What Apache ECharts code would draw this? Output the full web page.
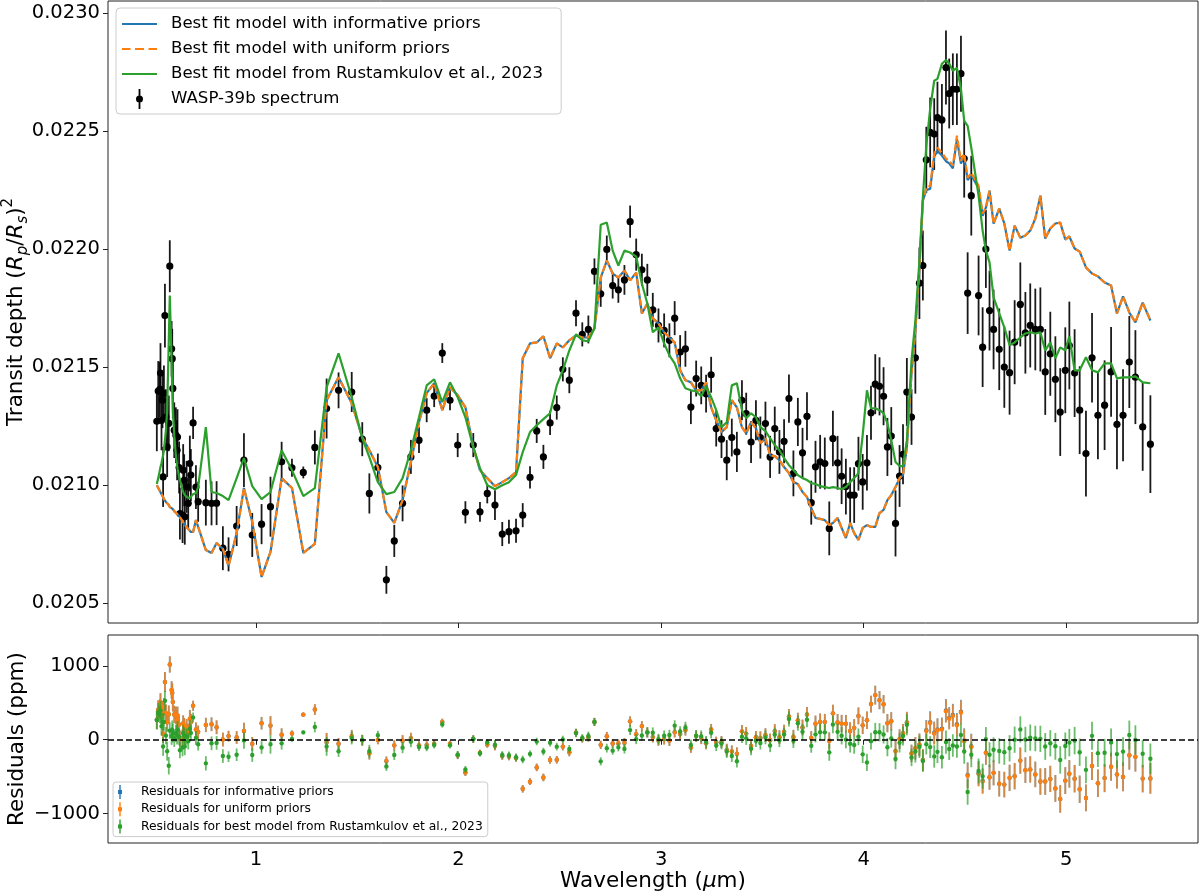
<!DOCTYPE html>
<html>
<head>
<meta charset="utf-8">
<script src="https://cdn.jsdelivr.net/npm/echarts@6.0.0/dist/echarts.min.js"></script>
<style>
  html, body { margin: 0; padding: 0; background: #fff; }
  #chart { width: 1200px; height: 894px; }
</style>
</head>
<body>
<div id="chart"></div>
<script>
// wavelength of each spectral bin (micron)
const wavelength = [
  0.511, 0.518, 0.526, 0.529, 0.534, 0.539, 0.542, 0.546, 0.551, 0.556, 0.562, 0.570, 0.575, 0.584, 0.587, 0.590, 0.597,
  0.605, 0.611, 0.613, 0.621, 0.625, 0.638, 0.641, 0.646, 0.649, 0.658, 0.666, 0.674, 0.679, 0.690, 0.704, 0.715,
  0.753, 0.781, 0.806, 0.837, 0.865, 0.905, 0.941, 0.982, 1.028, 1.072, 1.127, 1.178, 1.234, 1.291, 1.349, 1.408,
  1.473, 1.525, 1.560, 1.602, 1.644, 1.683,
  1.724, 1.765, 1.805, 1.843, 1.880, 1.920, 1.958, 1.996, 2.034, 2.073, 2.106, 2.142, 2.180, 2.216, 2.249, 2.284,
  2.317, 2.353, 2.386, 2.419, 2.452, 2.485, 2.515, 2.547, 2.580, 2.611, 2.641, 2.671,
  2.702, 2.732, 2.761, 2.789, 2.819, 2.847, 2.877, 2.905, 2.932, 2.959, 2.987, 3.015, 3.041, 3.067, 3.094, 3.120,
  3.147, 3.173, 3.198, 3.222, 3.247, 3.272, 3.298, 3.324, 3.349, 3.374, 3.399,
  3.420, 3.444, 3.468, 3.490, 3.515, 3.538, 3.561, 3.584, 3.607, 3.631, 3.653, 3.675, 3.698, 3.720, 3.741, 3.762,
  3.785, 3.808, 3.830, 3.848, 3.871, 3.891, 3.912, 3.933, 3.953, 3.974, 3.995, 4.016, 4.036, 4.057,
  4.078, 4.098, 4.117, 4.136, 4.157, 4.177, 4.194, 4.213, 4.236, 4.255, 4.275, 4.292, 4.309, 4.328, 4.348, 4.364,
  4.386, 4.406, 4.422, 4.440, 4.460, 4.480, 4.496,
  4.513, 4.531, 4.567, 4.587, 4.603, 4.621, 4.641, 4.669, 4.694, 4.720, 4.745, 4.773, 4.798, 4.822, 4.847, 4.872,
  4.896, 4.921, 4.946, 4.970, 4.995, 5.015, 5.041, 5.066, 5.097, 5.127, 5.156, 5.189, 5.221, 5.250, 5.280, 5.311,
  5.341, 5.377, 5.415
]

// transit depth, ppm
const depth = [
  21270, 21398, 21405, 21474, 21274, 21359, 21034, 21388, 21718, 21288, 21161, 21261, 21927, 21577, 21535, 21409, 21232,
  21211, 21147, 21203, 21074, 20879, 20872, 21063, 21020, 20865, 20992, 20922, 21091, 21042, 21263, 20991, 20929,
  20925, 20922, 20923, 20732, 20706, 20826, 21105, 20788, 20834, 20908, 21098, 21073, 21053, 21159, 21324, 21401,
  21394, 21194, 20964, 21074, 20598, 20763,
  20922, 21119, 21190, 21317, 21377, 21559, 21359, 21169, 20884, 21169, 20886, 20964, 20915, 20792, 20802, 20806,
  20872, 21032, 21229, 21119, 21263, 21328, 21490, 21444, 21728, 21638, 21659, 21905,
  21810, 21998, 21845, 21827, 21869, 22116, 21976, 21912, 21869, 21742, 21676, 21655, 21613, 21707, 21563, 21577,
  21330, 21451, 21422, 21387, 21467, 21239, 21194, 21105, 21201, 21140, 21359,
  21302, 21182, 21274, 21201, 21260, 21119, 21239, 21140, 21185, 21366, 21049, 21267, 21136, 21291, 20925, 21077,
  21098, 21091, 20816, 21197, 21094, 21037, 20993, 20957, 20957, 21090, 21013, 21094, 21306, 21427,
  21418, 21376, 21161, 21207, 20837, 21038, 21130, 21394, 21288, 21539, 21855, 21930, 22378, 22494, 22487, 22557,
  22547, 22769, 22659, 22677, 22677, 22743, 22383,
  21813, 22226, 21803, 21584, 22000, 21739, 21659, 21575, 21500, 21476, 21605, 21765, 21645, 21676, 21659, 21659,
  21479, 21556, 21448, 21309, 21486, 21591, 21474, 21317, 21133, 21539, 21295, 21338, 21479, 21257, 21295, 21521,
  21457, 21246, 21173
]

// 1-sigma uncertainty, ppm
const depthErr = [
  127, 127, 118, 127, 127, 118, 127, 118, 135, 118, 127, 118, 110, 118, 127, 127, 118,
  118, 127, 118, 110, 110, 118, 110, 110, 118, 110, 110, 118, 110, 68, 93, 85,
  97, 93, 93, 93, 72, 85, 114, 93, 85, 127, 85, 38, 25, 72, 127, 76,
  85, 72, 85, 59, 59, 68,
  76, 72, 55, 51, 47, 42, 42, 51, 47, 51, 42, 42, 63, 51, 51, 51,
  51, 47, 51, 51, 51, 51, 51, 55, 55, 51, 59, 55,
  55, 59, 55, 55, 63, 68, 68, 68, 68, 72, 72, 72, 72, 72, 72, 76,
  72, 76, 80, 80, 76, 76, 80, 85, 80, 85, 85,
  89, 89, 85, 89, 93, 89, 93, 93, 93, 102, 97, 102, 106, 102, 93, 110,
  114, 110, 114, 118, 114, 118, 118, 118, 118, 114, 118, 118, 114, 127,
  123, 123, 123, 123, 140, 131, 127, 144, 118, 152, 152, 148, 140, 148, 152, 152,
  152, 157, 148, 152, 152, 161, 165,
  173, 169, 169, 169, 165, 169, 169, 173, 173, 178, 178, 178, 173, 178, 173, 178,
  182, 178, 182, 186, 182, 186, 186, 186, 182, 190, 186, 190, 190, 190, 195, 195,
  199, 186, 207
]

// best fit model, uniform priors (ppm)
const modelUniform = [
  20999, 20991, 20974, 20970, 20961, 20953, 20949, 20940, 20936, 20928, 20923, 20915, 20906, 20902, 20902, 20898, 20889,
  20881, 20877, 20873, 20868, 20864, 20847, 20843, 20834, 20830, 20822, 20813, 20805, 20801, 20801, 20851, 20822,
  20724, 20712, 20754, 20729, 20657, 20796, 20987, 20843, 20610, 20716, 21029, 20987, 20712, 20750, 21359, 21456,
  21346, 21202, 21147, 21076, 20885, 20839,
  20936, 21097, 21266, 21389, 21431, 21317, 21414, 21380, 21329, 21160, 21063, 21029, 20995, 21012, 21029, 21054,
  21537, 21600, 21604, 21630, 21537, 21600, 21583, 21613, 21634, 21625, 21625, 21664,
  21879, 21951, 21896, 21879, 21909, 21867, 21900, 21727, 21769, 21706, 21685, 21647, 21625, 21604, 21486, 21444,
  21435, 21401, 21401, 21435, 21329, 21274, 21224, 21245, 21359, 21329, 21245,
  21219, 21266, 21241, 21177, 21198, 21126, 21122, 21105, 21076, 21050, 21012, 21004, 20970, 20949, 20902, 20860,
  20856, 20851, 20830, 20839, 20860, 20818, 20775, 20839, 20796, 20767, 20818, 20830, 20822, 20822,
  20881, 20894, 20936, 20957, 20991, 21029, 21042, 21160, 21473, 21655, 21922, 22205, 22260, 22268, 22404, 22429,
  22408, 22383, 22374, 22353, 22480, 22374, 22404,
  22302, 22323, 22268, 22150, 22175, 22247, 22108, 22171, 22108, 21993, 22099, 22048, 22057, 22078, 22129, 22226,
  22044, 22087, 22108, 22112, 22040, 22053, 22002, 21989, 21922, 21896, 21884, 21858, 21845, 21727, 21799, 21731,
  21689, 21773, 21697
]

// best fit model, informative priors (ppm)
const modelInformative = [
  20999, 20991, 20974, 20970, 20961, 20953, 20949, 20940, 20936, 20928, 20923, 20915, 20906, 20902, 20902, 20898, 20889,
  20881, 20877, 20873, 20868, 20864, 20847, 20843, 20834, 20830, 20822, 20813, 20805, 20801, 20801, 20851, 20822,
  20724, 20712, 20754, 20729, 20657, 20796, 20987, 20843, 20610, 20716, 21029, 20987, 20712, 20750, 21359, 21456,
  21346, 21202, 21147, 21076, 20885, 20839,
  20936, 21097, 21266, 21389, 21431, 21317, 21414, 21380, 21329, 21160, 21063, 21029, 20995, 21012, 21029, 21054,
  21537, 21600, 21604, 21630, 21537, 21600, 21583, 21613, 21634, 21625, 21625, 21664,
  21879, 21951, 21896, 21879, 21909, 21867, 21900, 21727, 21769, 21706, 21685, 21647, 21625, 21604, 21486, 21444,
  21435, 21401, 21401, 21435, 21329, 21274, 21224, 21245, 21359, 21329, 21245,
  21219, 21266, 21241, 21177, 21198, 21126, 21122, 21105, 21076, 21050, 21012, 21004, 20970, 20949, 20902, 20860,
  20856, 20851, 20830, 20839, 20860, 20818, 20775, 20839, 20796, 20767, 20818, 20830, 20822, 20822,
  20881, 20894, 20936, 20957, 20991, 21029, 21042, 21160, 21473, 21655, 21922, 22205, 22250, 22255, 22392, 22416,
  22396, 22372, 22363, 22342, 22466, 22362, 22392,
  22292, 22313, 22258, 22140, 22175, 22247, 22108, 22171, 22108, 21993, 22099, 22048, 22057, 22078, 22129, 22226,
  22044, 22087, 22108, 22112, 22040, 22053, 22002, 21989, 21922, 21896, 21884, 21858, 21845, 21727, 21799, 21731,
  21689, 21773, 21697
]

// best fit model from Rustamkulov et al. 2023 (ppm)
const modelRustamkulov = [
  21004, 21029, 21063, 21076, 21092, 21114, 21126, 21147, 21190, 21232, 21317, 21613, 21803, 21528, 21401, 21317, 21211,
  21126, 21084, 21071, 21037, 21021, 20978, 20970, 20961, 20957, 20949, 20944, 20944, 20949, 20961, 20966, 20991,
  21245, 20970, 20966, 20953, 20936, 21029, 21114, 20995, 20940, 20970, 21147, 21063, 20953, 20987, 21414, 21558,
  21372, 21198, 21118, 21012, 20961, 20970,
  21029, 21147, 21287, 21422, 21448, 21351, 21435, 21372, 21287, 21160, 21071, 20999, 20982, 20999, 21012, 21042,
  21139, 21224, 21253, 21279, 21304, 21422, 21486, 21570, 21638, 21613, 21609, 21664,
  22103, 22112, 21993, 21930, 21993, 21985, 21968, 21854, 21769, 21647, 21668, 21600, 21549, 21515, 21452, 21410,
  21401, 21397, 21376, 21418, 21372, 21317, 21245, 21266, 21422, 21431, 21317,
  21283, 21304, 21287, 21245, 21228, 21198, 21169, 21147, 21114, 21084, 21063, 21042, 21029, 21021, 21008, 21004,
  20995, 20991, 20987, 20991, 20987, 20982, 20991, 21012, 21029, 21050, 21211, 21401, 21325, 21325,
  21317, 21304, 21262, 21190, 21097, 21080, 21080, 21190, 21528, 21697, 21951, 22218, 22438, 22594, 22713, 22721,
  22785, 22801, 22785, 22755, 22768, 22679, 22543,
  22522, 22429, 22226, 22078, 21993, 21943, 21795, 21727, 21668, 21592, 21604, 21625, 21642, 21647, 21642, 21647,
  21570, 21604, 21537, 21583, 21570, 21630, 21486, 21486, 21541, 21486, 21477, 21515, 21515, 21452, 21456, 21456,
  21460, 21435, 21431
]

const wavelengthTicks = [1, 2, 3, 4, 5]
const depthTicks = [20500, 21000, 21500, 22000, 22500, 23000]
const residualTicks = [-1000, 0, 1000]

const FONT = 'DejaVu Sans'
const BLUE = '#1f77b4'
const ORANGE = '#ff7f0e'
const GREEN = '#2ca02c'

const lineOf = model => wavelength.map((w, i) => [w, model[i]])
const residualsOf = model => wavelength.map((w, i) => [w, depth[i] - model[i], depthErr[i]])

function errorBars (color, radius, barWidth, barOpacity) {
  return function (params, api) {
    const x = api.value(0)
    const y = api.value(1)
    const e = api.value(2)
    const mid = api.coord([x, y])
    const low = api.coord([x, y - e])
    const high = api.coord([x, y + e])
    return {
      type: 'group',
      children: [
        {
          type: 'line',
          shape: { x1: low[0], y1: low[1], x2: high[0], y2: high[1] },
          style: { stroke: color, lineWidth: barWidth, opacity: barOpacity }
        },
        {
          type: 'circle',
          shape: { cx: mid[0], cy: mid[1], r: radius },
          style: { fill: color }
        }
      ]
    }
  }
}

// legend glyphs, matplotlib style
const solidIcon = 'path://M0,0 h35 v2.2 h-35 Z'
const dashedIcon = 'path://M0,0 h8.5 v2.2 h-8.5 Z M13,0 h9 v2.2 h-9 Z M26.5,0 h8.5 v2.2 h-8.5 Z'
const bigBarIcon = 'path://M-0.9,0 h1.8 v6.5 h-1.8 Z M-0.9,13.5 h1.8 v6.5 h-1.8 Z M-3.5,10 A3.5,3.5 0 1 1 3.5,10 A3.5,3.5 0 1 1 -3.5,10 Z'
const smallBarIcon = 'path://M-0.7,0 h1.4 v5 h-1.4 Z M-0.7,9 h1.4 v5 h-1.4 Z M-2,5 h4 v4 h-4 Z'

const tickLabel = { fontFamily: FONT, fontSize: 19.5, color: '#000' }

const dom = document.getElementById('chart')
const myChart = echarts.init(dom, null, { renderer: 'canvas' })

const option = {
  animation: false,
  backgroundColor: '#fff',
  grid: [
    { left: 108, right: 2, top: 1, height: 622, show: true, borderColor: '#222', borderWidth: 1, backgroundColor: 'transparent', containLabel: false, outerBoundsMode: 'none' },
    { left: 108, right: 2, top: 635, height: 208, show: true, borderColor: '#222', borderWidth: 1, backgroundColor: 'transparent', containLabel: false, outerBoundsMode: 'none' }
  ],
  legend: [
    {
      orient: 'vertical',
      left: 116,
      top: 8,
      itemWidth: 35,
      itemHeight: 20,
      itemGap: 5,
      padding: [6, 18, 5, 6],
      backgroundColor: 'rgba(255,255,255,0.8)',
      borderColor: '#cccccc',
      borderWidth: 1,
      borderRadius: 4,
      selectedMode: false,
      textStyle: { fontFamily: FONT, fontSize: 16.6, color: '#000', lineHeight: 20, padding: [0, 0, 0, 9] },
      data: [
        { name: 'Best fit model with informative priors', icon: solidIcon },
        { name: 'Best fit model with uniform priors', icon: dashedIcon },
        { name: 'Best fit model from Rustamkulov et al., 2023', icon: solidIcon },
        { name: 'WASP-39b spectrum', icon: bigBarIcon }
      ]
    },
    {
      orient: 'vertical',
      left: 113,
      top: 782,
      itemWidth: 26,
      itemHeight: 14,
      itemGap: 3.3,
      padding: [3, 5, 3, 5],
      backgroundColor: 'rgba(255,255,255,0.8)',
      borderColor: '#cccccc',
      borderWidth: 1,
      borderRadius: 3,
      selectedMode: false,
      textStyle: { fontFamily: FONT, fontSize: 12.3, color: '#000', lineHeight: 14, padding: [0, 0, 0, 3] },
      data: [
        { name: 'Residuals for informative priors', icon: smallBarIcon },
        { name: 'Residuals for uniform priors', icon: smallBarIcon },
        { name: 'Residuals for best model from Rustamkulov et al., 2023', icon: smallBarIcon }
      ]
    }
  ],
  xAxis: [
    {
      gridIndex: 0,
      type: 'value',
      min: 0.27,
      max: 5.65,
      axisLine: { show: false },
      axisTick: { show: true, length: 5, lineStyle: { color: '#222', width: 1 }, customValues: wavelengthTicks },
      axisLabel: { show: false, customValues: wavelengthTicks },
      splitLine: { show: false }
    },
    {
      gridIndex: 1,
      type: 'value',
      min: 0.27,
      max: 5.65,
      axisLine: { show: false },
      axisTick: { show: true, length: 5, lineStyle: { color: '#222', width: 1 }, customValues: wavelengthTicks },
      axisLabel: Object.assign({ margin: 7, customValues: wavelengthTicks }, tickLabel),
      splitLine: { show: false },
      name: '{t|Wavelength (}{mu|μ}{t|m)}',
      nameLocation: 'middle',
      nameGap: 27,
      nameMoveOverlap: false,
      nameTextStyle: {
        fontFamily: FONT,
        fontSize: 21.5,
        color: '#000',
        rich: {
          t: { fontFamily: FONT, fontSize: 21.5, color: '#000' },
          mu: { fontFamily: FONT, fontSize: 21.5, fontStyle: 'italic', color: '#000' }
        }
      }
    }
  ],
  yAxis: [
    {
      gridIndex: 0,
      type: 'value',
      min: 20415,
      max: 23051,
      axisLine: { show: false },
      axisTick: { show: true, length: 5, lineStyle: { color: '#222', width: 1 }, customValues: depthTicks },
      axisLabel: Object.assign({ margin: 8, customValues: depthTicks, formatter: v => (v / 1e6).toFixed(4) }, tickLabel),
      splitLine: { show: false },
      name: '{t|Transit depth (}{i|R}{sub|p}{t|/}{i|R}{sub|s}{t|)}{sup|2}',
      nameLocation: 'middle',
      nameRotate: 90,
      nameGap: 77,
      nameMoveOverlap: false,
      nameTextStyle: {
        fontFamily: FONT,
        fontSize: 21.5,
        color: '#000',
        rich: {
          t: { fontFamily: FONT, fontSize: 21.5, color: '#000', lineHeight: 30, verticalAlign: 'middle' },
          i: { fontFamily: FONT, fontSize: 21.5, fontStyle: 'italic', color: '#000', lineHeight: 30, verticalAlign: 'middle' },
          sub: { fontFamily: FONT, fontSize: 15, fontStyle: 'italic', color: '#000', lineHeight: 15, verticalAlign: 'bottom' },
          sup: { fontFamily: FONT, fontSize: 15, color: '#000', lineHeight: 15, verticalAlign: 'top' }
        }
      }
    },
    {
      gridIndex: 1,
      type: 'value',
      min: -1400,
      max: 1420,
      axisLine: { show: false },
      axisTick: { show: true, length: 5, lineStyle: { color: '#222', width: 1 }, customValues: residualTicks },
      axisLabel: Object.assign({ margin: 8, customValues: residualTicks, formatter: v => (v < 0 ? '\u2212' + (-v) : String(v)) }, tickLabel),
      splitLine: { show: false },
      name: 'Residuals (ppm)',
      nameLocation: 'middle',
      nameRotate: 90,
      nameGap: 80,
      nameMoveOverlap: false,
      nameTextStyle: { fontFamily: FONT, fontSize: 21.5, color: '#000' }
    }
  ],
  series: [
    {
      name: 'WASP-39b spectrum',
      type: 'custom',
      xAxisIndex: 0,
      yAxisIndex: 0,
      z: 1,
      itemStyle: { color: '#000' },
      encode: { x: 0, y: 1 },
      renderItem: errorBars('#000', 3.6, 1.8, 0.9),
      data: wavelength.map((w, i) => [w, depth[i], depthErr[i]])
    },
    {
      name: 'Best fit model with informative priors',
      type: 'line',
      xAxisIndex: 0,
      yAxisIndex: 0,
      z: 2,
      symbol: 'none',
      color: BLUE,
      lineStyle: { color: BLUE, width: 2.2 },
      data: lineOf(modelInformative)
    },
    {
      name: 'Best fit model with uniform priors',
      type: 'line',
      xAxisIndex: 0,
      yAxisIndex: 0,
      z: 3,
      symbol: 'none',
      color: ORANGE,
      lineStyle: { color: ORANGE, width: 2.2, type: [7, 3] },
      data: lineOf(modelUniform)
    },
    {
      name: 'Best fit model from Rustamkulov et al., 2023',
      type: 'line',
      xAxisIndex: 0,
      yAxisIndex: 0,
      z: 4,
      symbol: 'none',
      color: GREEN,
      lineStyle: { color: GREEN, width: 2.2 },
      data: lineOf(modelRustamkulov)
    },
    {
      name: 'Residuals for informative priors',
      type: 'custom',
      xAxisIndex: 1,
      yAxisIndex: 1,
      z: 2,
      itemStyle: { color: BLUE },
      encode: { x: 0, y: 1 },
      renderItem: errorBars(BLUE, 2.2, 1.8, 0.7),
      data: residualsOf(modelInformative),
      markLine: {
        silent: true,
        symbol: ['none', 'none'],
        label: { show: false },
        lineStyle: { color: '#000', type: [6, 3], width: 1.6 },
        data: [{ yAxis: 0 }]
      }
    },
    {
      name: 'Residuals for uniform priors',
      type: 'custom',
      xAxisIndex: 1,
      yAxisIndex: 1,
      z: 3,
      itemStyle: { color: ORANGE },
      encode: { x: 0, y: 1 },
      renderItem: errorBars(ORANGE, 2.2, 1.8, 0.7),
      data: residualsOf(modelUniform)
    },
    {
      name: 'Residuals for best model from Rustamkulov et al., 2023',
      type: 'custom',
      xAxisIndex: 1,
      yAxisIndex: 1,
      z: 4,
      itemStyle: { color: GREEN },
      encode: { x: 0, y: 1 },
      renderItem: errorBars(GREEN, 2.2, 1.8, 0.7),
      data: residualsOf(modelRustamkulov)
    }
  ]
}

if (option && typeof option === 'object') {
  myChart.setOption(option, true)
}
</script>
</body>
</html>
